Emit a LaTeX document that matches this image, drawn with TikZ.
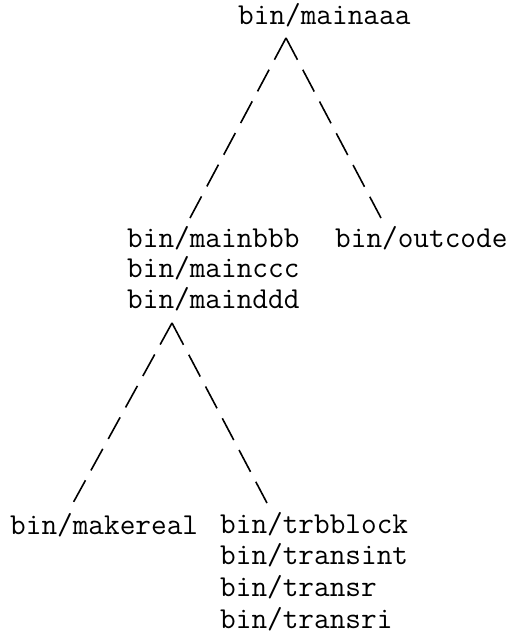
\documentclass[tikz,border=0pt]{standalone}
\usepackage{fontspec}
\usetikzlibrary{calc}
\newcommand\treefontsel{\ttfamily\addfontfeatures{FakeBold=2.5}}
\tikzset{
  lbl/.style={anchor=base west, inner sep=0pt, font=\treefontsel\fontsize{30.4}{31}\selectfont},
  edge/.style={line width=1.6pt, dash pattern=on 24.6pt off 11.3pt},
}
\begin{document}
\begin{tikzpicture}[x=1pt,y=-1pt]
\useasboundingbox (0,0) rectangle (513,634);
\node[lbl] (aaa) at (238,25) {bin/mainaaa};
\node[lbl] (bbb) at (127,247) {\fontsize{30.4}{30.5}\selectfont\begin{tabular}[t]{@{}l@{}}bin/mainbbb\\bin/mainccc\\bin/mainddd\end{tabular}};
\node[lbl] (out) at (335,247) {bin/outcode};
\node[lbl] (mk) at (10,534) {bin/makereal};
\node[lbl] (tr) at (220,533) {\fontsize{30.4}{31.7}\selectfont\begin{tabular}[t]{@{}l@{}}bin/trbblock\\bin/transint\\bin/transr\\bin/transri\end{tabular}};
\coordinate (topapex) at ($(aaa.base west)+(48,13)$);
\coordinate (bbbtop) at ($(bbb.base west)+(63,-29)$);
\coordinate (outtop) at ($(out.base west)+(46,-29)$);
\coordinate (lowapex) at ($(bbb.base west)+(45,76)$);
\coordinate (mktop) at ($(mk.base west)+(63,-31)$);
\coordinate (trtop) at ($(tr.base west)+(47,-30)$);
\draw[edge] (topapex) -- (bbbtop);
\draw[edge] (topapex) -- (outtop);
\draw[edge] (lowapex) -- (mktop);
\draw[edge] (lowapex) -- (trtop);
\end{tikzpicture}
\end{document}
